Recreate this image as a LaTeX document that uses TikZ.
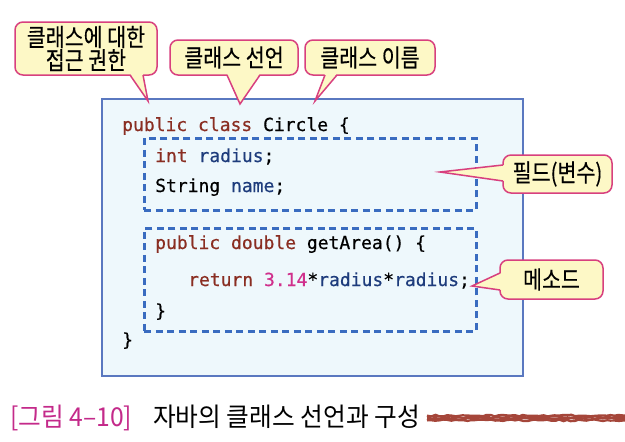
\documentclass[tikz,border=0pt]{standalone}
\usepackage{fontspec}
\newfontfamily\kr{Noto Sans CJK KR}[FakeStretch=0.84, FakeBold=0.3]
\newfontfamily\krcap{Noto Sans CJK KR}[FakeStretch=0.95]
\newfontfamily\codefont{DejaVu Sans Mono}[FakeBold=0.5]
\usetikzlibrary{decorations.pathmorphing}
\definecolor{boxfill}{HTML}{EEF8FC}
\definecolor{boxline}{HTML}{5A78C0}
\definecolor{dashline}{HTML}{3A6CC0}
\definecolor{callfill}{HTML}{FDF8C6}
\definecolor{callline}{HTML}{D8407E}
\definecolor{kw}{HTML}{8A2E22}
\definecolor{idf}{HTML}{1E3C7C}
\definecolor{num}{HTML}{D0308C}
\definecolor{capmag}{HTML}{C42A8A}
\definecolor{scrib}{HTML}{A5463A}
\tikzset{
  mainbox/.style={draw=boxline, fill=boxfill, line width=1.6pt, anchor=north west, inner sep=0pt},
  dashbox/.style={draw=dashline, line width=2.6pt, dash pattern=on 7pt off 4.5pt, anchor=north west, inner sep=0pt},
  callout/.style={draw=callline, fill=callfill, line width=1.5pt, rounded corners=8pt, inner sep=0pt,
    font=\kr\fontsize{24.5}{21.5}\selectfont, align=center, text=black},
  ptrfill/.style={fill=callfill},
  ptrline/.style={draw=callline, line width=1.5pt},
  code/.style={anchor=base west, inner sep=0pt, font=\codefont\fontsize{18}{18}\selectfont, text=black},
  captxt/.style={anchor=base west, inner sep=0pt, font=\krcap\fontsize{26}{26}\selectfont},
}
\begin{document}
\begin{tikzpicture}[x=1pt, y=-1pt]
\useasboundingbox[fill=white] (0,0) rectangle (625,442);
% main class box
\node[mainbox, minimum width=421pt, minimum height=277pt] (main) at (101,98) {};
% dashed boxes
\node[dashbox, minimum width=332pt, minimum height=72pt] (fieldbox) at (143,137) {};
\node[dashbox, minimum width=332pt, minimum height=103pt] (methodbox) at (143,227) {};
% code
\node[code] (l1) at (122,131) {\textcolor{kw}{public class} Circle \{};
\node[code] (l2) at (155,162) {\textcolor{kw}{int} \textcolor{idf}{radius};};
\node[code] (l3) at (155,192) {String \textcolor{idf}{name};};
\node[code] (l4) at (155,249) {\textcolor{kw}{public double} getArea() \{};
\node[code] (l5) at (188,286) {\textcolor{kw}{return} \textcolor{num}{3.14}*\textcolor{idf}{radius}*\textcolor{idf}{radius};};
\node[code] (l6) at (155,317) {\}};
\node[code] (l7) at (122,346) {\}};
% callouts
\node[callout, minimum width=142pt, minimum height=53pt] (c1) at (86,48.5) {클래스에 대한\\접근 권한};
\node[callout, minimum width=128pt, minimum height=35pt] (c2) at (234,57.5) {클래스 선언};
\node[callout, minimum width=130pt, minimum height=35pt] (c3) at (370,57.5) {클래스 이름};
\node[callout, minimum width=109pt, minimum height=38pt] (c4) at (557.5,174) {필드(변수)};
\node[callout, minimum width=103pt, minimum height=39pt] (c5) at (551.5,279.5) {메소드};
% pointers
\coordinate (t1) at (148,101); \coordinate (a1) at (130,75); \coordinate (b1) at (143,75);
\coordinate (t2) at (240,104); \coordinate (a2) at (227,75); \coordinate (b2) at (260,75);
\coordinate (t3) at (315,101); \coordinate (a3) at (325,75); \coordinate (b3) at (337,75);
\coordinate (t4) at (440,172); \coordinate (a4) at (503,165); \coordinate (b4) at (503,181);
\coordinate (t5) at (472,286); \coordinate (a5) at (500,273); \coordinate (b5) at (500,290);
\foreach \i in {1,2,3} {
  \fill[ptrfill] ([yshift=1.5pt]a\i) -- (t\i) -- ([yshift=1.5pt]b\i) -- cycle;
  \path[ptrline] (a\i) -- (t\i) -- (b\i);
}
\foreach \i in {4,5} {
  \fill[ptrfill] ([xshift=1.5pt]a\i) -- (t\i) -- ([xshift=1.5pt]b\i) -- cycle;
  \path[ptrline] (a\i) -- (t\i) -- (b\i);
}
% caption
\node[captxt, text=capmag] (cap1) at (10,426) {[그림 4–10]};
\node[captxt, text=black] (cap2) at (153,426) {자바의 클래스 선언과 구성};
\coordinate (s1) at (427,418); \coordinate (s2) at (625,418);
\pgfmathsetseed{7}
\foreach \d in {-2.4,-0.8,0.8,2.4} {
  \draw[scrib, line width=2.2pt, decorate, decoration={random steps, segment length=4pt, amplitude=0.8pt}]
    ([yshift=\d pt]s1) -- ([yshift=\d pt]s2);
}
\end{tikzpicture}
\end{document}
